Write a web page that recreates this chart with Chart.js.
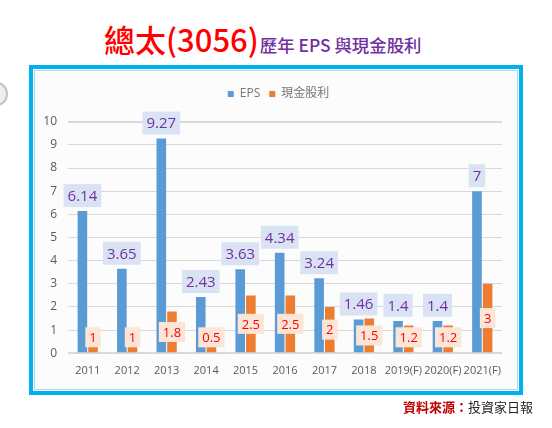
<!DOCTYPE html>
<html>
<head>
<meta charset="utf-8">
<script src="https://cdn.jsdelivr.net/npm/chart.js@4.4.1/dist/chart.umd.min.js"></script>
<style>
  body {
    margin: 0;
    width: 552px;
    height: 428px;
    overflow: hidden;
    position: relative;
    background: #fff;
    font-family: "Noto Sans CJK TC", sans-serif;
  }
  #title {
    position: absolute;
    left: 104px;
    top: 16px;
    white-space: nowrap;
  }
  #title .main { color: #ff0000; font-size: 31px; font-weight: 500; }
  #title .sub { color: #7030a0; font-size: 17.4px; font-weight: 500; margin-left: 1px; }
  #frame {
    position: absolute;
    left: 29px;
    top: 65px;
    width: 494px;
    height: 330px;
    box-sizing: border-box;
    border: 4px solid #00b0f0;
    background: #fff;
  }
  #frame .inner {
    position: absolute;
    left: 1px; top: 1px; right: 1px; bottom: 1px;
    border: 1px solid #a6dcf5;
    background: #fcfcfc;
  }
  #knob {
    position: absolute;
    left: -14px;
    top: 82px;
    width: 18px;
    height: 20px;
    border-radius: 50%;
    border: 2px solid #c4c4c4;
    background: #eeeeee;
    filter: blur(0.6px);
  }
  #source {
    position: absolute;
    right: 19px;
    top: 397px;
    font-size: 13px;
    white-space: nowrap;
  }
  #source .lead { color: #c00000; font-weight: 700; }
  #source .name { color: #262626; }
  canvas { position: absolute; left: 0; top: 0; }
</style>
</head>
<body>
<div id="knob"></div>
<div id="title"><span class="main">總太(3056)</span><span class="sub">歷年 EPS 與現金股利</span></div>
<div id="frame"><div class="inner"></div></div>
<canvas id="myChart" width="552" height="428"></canvas>
<div id="source"><span class="lead">資料來源：</span><span class="name">投資家日報</span></div>
<script>
//Chart data.
let years = ["2011", "2012", "2013", "2014", "2015", "2016", "2017", "2018", "2019(F)", "2020(F)", "2021(F)"];
let eps = [6.14, 3.65, 9.27, 2.43, 3.63, 4.34, 3.24, 1.46, 1.4, 1.4, 7];
let cashDividend = [1, 1, 1.8, 0.5, 2.5, 2.5, 2, 1.5, 1.2, 1.2, 3];
let yTicksMax = 10;

//Draw the boxed value labels on top of the bars.
const valueBoxes = {
  id: "valueBoxes",
  afterDatasetsDraw(chart) {
    let ctx = chart.ctx;
    ctx.save();
    ctx.textAlign = "center";
    ctx.textBaseline = "middle";

    chart.data.datasets.forEach((ds, di) => {
      let meta = chart.getDatasetMeta(di);
      meta.data.forEach((bar, i) => {
        let text = String(ds.data[i]);
        let boxW, boxH, cy;

        if (di === 0) {
          //EPS: purple number in a light blue box above the bar.
          ctx.font = "15px 'Open Sans'";
          boxW = ctx.measureText(text).width + 8;
          boxH = 23;
          cy = bar.y - 4 - boxH / 2;
          ctx.fillStyle = "#dae3f3";
        } else {
          //Dividend: red number in a peach box in the middle of the bar.
          ctx.font = "13px 'Open Sans'";
          boxW = ctx.measureText(text).width + 8;
          boxH = 20;
          cy = Math.min((bar.y + bar.base) / 2, bar.base - 15);
          ctx.fillStyle = "#fbe5d6";
        }

        ctx.fillRect(bar.x - boxW / 2, cy - boxH / 2, boxW, boxH);
        ctx.fillStyle = di === 0 ? "#7030a0" : "#ff0000";
        ctx.fillText(text, bar.x, cy + 1);
      });
    });

    ctx.restore();
  }
};

let ctx = document.getElementById("myChart").getContext("2d");

let myChart = new Chart(ctx, {
  type: "bar",
  data: {
    labels: years,
    datasets: [{
      label: "EPS",
      data: eps,
      backgroundColor: "#5b9bd5",
      categoryPercentage: 0.54,
      barPercentage: 0.9
    }, {
      label: "現金股利",
      data: cashDividend,
      backgroundColor: "#ed7d31",
      categoryPercentage: 0.54,
      barPercentage: 0.9
    }]
  },
  options: {
    responsive: false,
    animation: false,
    layout: {
      padding: { left: 40, right: 35, top: 79, bottom: 44.7 }
    },
    plugins: {
      legend: {
        position: "top",
        labels: {
          boxWidth: 6,
          boxHeight: 6,
          padding: 9,
          color: "#767676",
          font: { family: "'Open Sans', 'Noto Sans CJK TC'", size: 12 }
        }
      },
      //Empty subtitle used as a spacer under the legend.
      subtitle: {
        display: true,
        text: "",
        weight: 500,
        font: { size: 1, lineHeight: 1 },
        padding: { top: 10.7, bottom: 0 }
      },
      tooltip: { enabled: false }
    },
    scales: {
      x: {
        grid: { display: false, drawTicks: false },
        border: { display: false },
        ticks: {
          autoSkip: false,
          maxRotation: 0,
          padding: 11,
          color: "#595959",
          font: { family: "'Open Sans'", size: 11 }
        },
        afterFit(scale) {
          scale.height = 30;
        }
      },
      y: {
        min: 0,
        max: yTicksMax,
        border: { display: false },
        grid: {
          drawTicks: false,
          color: "#d9d9d9",
          lineWidth: c => (c.tick && (c.tick.value === 0 || c.tick.value === yTicksMax)) ? 2 : 1
        },
        ticks: {
          stepSize: 1,
          padding: 11,
          color: "#595959",
          font: { family: "'Open Sans'", size: 12 }
        },
        afterFit(scale) {
          scale.width = 28;
        }
      },
      //Blank right axis, only there to keep the legend centred like the picture.
      yRight: {
        type: "linear",
        position: "right",
        grid: { display: false },
        border: { display: false },
        ticks: { display: false },
        afterFit(scale) {
          scale.width = 15;
        }
      }
    }
  },
  plugins: [valueBoxes]
});
</script>
</body>
</html>
